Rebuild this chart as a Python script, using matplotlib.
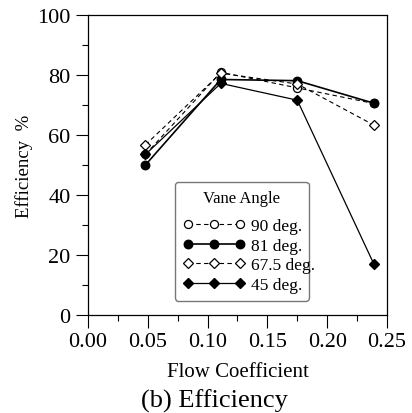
import numpy as np
import matplotlib
matplotlib.use('Agg')
import matplotlib.pyplot as plt
from matplotlib.ticker import MultipleLocator

plt.rcParams['font.family'] = ['Liberation Serif', 'DejaVu Serif']

# data
flow = [0.048, 0.111, 0.175, 0.239]
eff_90 = [53.5, 80.9, 75.7, 70.5]
eff_81 = [50.0, 78.5, 78.1, 70.6]
eff_675 = [56.7, 80.6, 77.0, 63.3]
eff_45 = [53.5, 77.2, 71.6, 17.0]
labels = ["90 deg.", "81 deg.", "67.5 deg.", "45 deg."]

fig = plt.figure(figsize=(4.12, 4.14), dpi=100)
ax = fig.add_axes([0.2136, 0.2367, 0.7257, 0.7247])

ms = 5.8
ax.plot(flow, eff_90, ls=(0, (4, 3)), lw=0.8, color='black', marker='o', ms=ms,
        mfc='white', mec='black', mew=0.9, label=labels[0])
ax.plot(flow, eff_81, ls='-', lw=1.2, color='black', marker='o', ms=ms + 0.3,
        mfc='black', mec='black', label=labels[1])
ax.plot(flow, eff_675, ls=(0, (4, 3)), lw=0.8, color='black', marker='D', ms=ms - 1,
        mfc='white', mec='black', mew=0.9, label=labels[2])
ax.plot(flow, eff_45, ls='-', lw=0.9, color='black', marker='D', ms=ms - 1,
        mfc='black', mec='black', label=labels[3])

ax.set_xlim(0, 0.25)
ax.set_ylim(0, 100)
ax.xaxis.set_major_locator(MultipleLocator(0.05))
ax.xaxis.set_minor_locator(MultipleLocator(0.025))
ax.yaxis.set_major_locator(MultipleLocator(20))
ax.yaxis.set_minor_locator(MultipleLocator(10))
ax.xaxis.set_major_formatter(matplotlib.ticker.FormatStrFormatter('%.2f'))
ax.tick_params(which='major', direction='out', length=9, width=0.8, labelsize=16,
               top=False, right=False)
ax.tick_params(which='minor', direction='out', length=4, width=0.8, top=False, right=False)
for sp in ax.spines.values():
    sp.set_linewidth(0.9)

ax.set_xlabel("Flow Coefficient", fontsize=15, labelpad=8)
ax.set_ylabel("Efficiency  %", fontsize=13.5, labelpad=3)

leg = ax.legend(loc='lower left', bbox_to_anchor=(0.291, 0.047, 0.448, 0.396),
                mode='expand', numpoints=3, handlelength=3.6, fontsize=12.5,
                title="Vane Angle", title_fontsize=12, fancybox=True,
                framealpha=1, edgecolor='#777777', borderpad=0.45,
                borderaxespad=0, labelspacing=0.2, handletextpad=0.3)
leg.get_frame().set_linewidth(1.0)
leg._legend_box.sep = 9  # extra gap under the legend title

fig.text(0.52, 0.003, "(b) Efficiency", ha='center', va='bottom', fontsize=19)

fig.savefig("out.png", dpi=100)
